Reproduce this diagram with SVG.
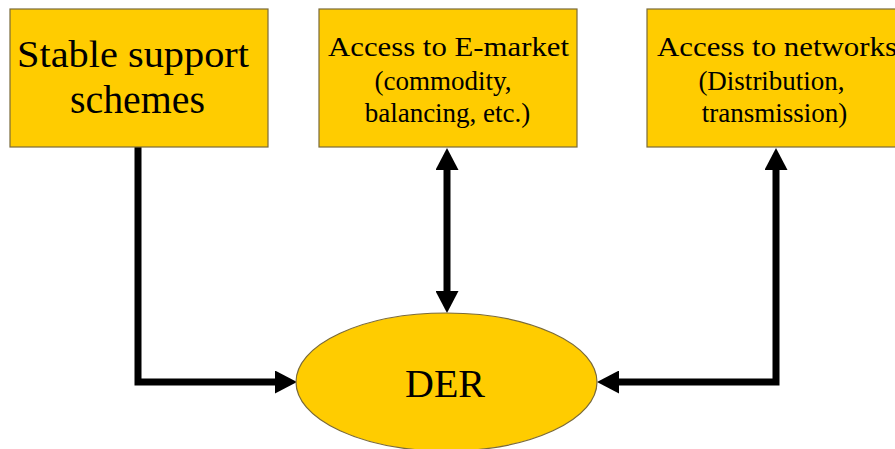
<svg xmlns="http://www.w3.org/2000/svg" width="895" height="449" viewBox="0 0 895 449">
  <style>
    .box { fill: #FFCC00; stroke: #7a6a3a; stroke-width: 1.2; }
    .lbl { font-family: 'Liberation Serif', 'Times New Roman', Times, 'DejaVu Serif', serif; fill: #000; text-anchor: middle; }
    .wire { fill: none; stroke: #000; stroke-width: 7; stroke-linejoin: miter; }
  </style>
  <defs>
    <marker id="head" viewBox="0 0 22 23" markerUnits="userSpaceOnUse" markerWidth="22" markerHeight="23" refX="0" refY="11.5" orient="auto-start-reverse">
      <path d="M0,0 L22,11.5 L0,23 Z" fill="#000"/>
    </marker>
  </defs>
  <rect width="895" height="449" fill="#fff"/>

  <g id="connectors">
    <path class="wire" d="M138,147 V382 H275" marker-end="url(#head)"/>
    <path class="wire" d="M447,170 V291" marker-start="url(#head)" marker-end="url(#head)"/>
    <path class="wire" d="M776,170 V382 H619" marker-start="url(#head)" marker-end="url(#head)"/>
  </g>

  <g id="support">
    <rect class="box" x="10" y="9" width="258" height="138"/>
    <text class="lbl" font-family="Liberation Serif, serif" font-size="38" x="133" y="67" textLength="232" lengthAdjust="spacingAndGlyphs">Stable support</text>
    <text class="lbl" font-family="Liberation Serif, serif" font-size="39" x="137.5" y="113" textLength="135" lengthAdjust="spacingAndGlyphs">schemes</text>
  </g>

  <g id="emarket">
    <rect class="box" x="319" y="9" width="258" height="138"/>
    <text class="lbl" font-size="27" x="448.5" y="56" textLength="241" lengthAdjust="spacingAndGlyphs">Access to E-market</text>
    <text class="lbl" font-size="27" x="443" y="90">(commodity,</text>
    <text class="lbl" font-size="27" x="447.5" y="122">balancing, etc.)</text>
  </g>

  <g id="networks">
    <rect class="box" x="647" y="9" width="262" height="138"/>
    <text class="lbl" font-size="27" x="777" y="56" textLength="240" lengthAdjust="spacingAndGlyphs">Access to networks</text>
    <text class="lbl" font-size="27" x="771.5" y="90">(Distribution,</text>
    <text class="lbl" font-size="27" x="774.5" y="122">transmission)</text>
  </g>

  <g id="der">
    <ellipse class="box" cx="446.5" cy="382" rx="150.5" ry="69"/>
    <text class="lbl" font-size="40" x="445" y="397">DER</text>
  </g>
</svg>
